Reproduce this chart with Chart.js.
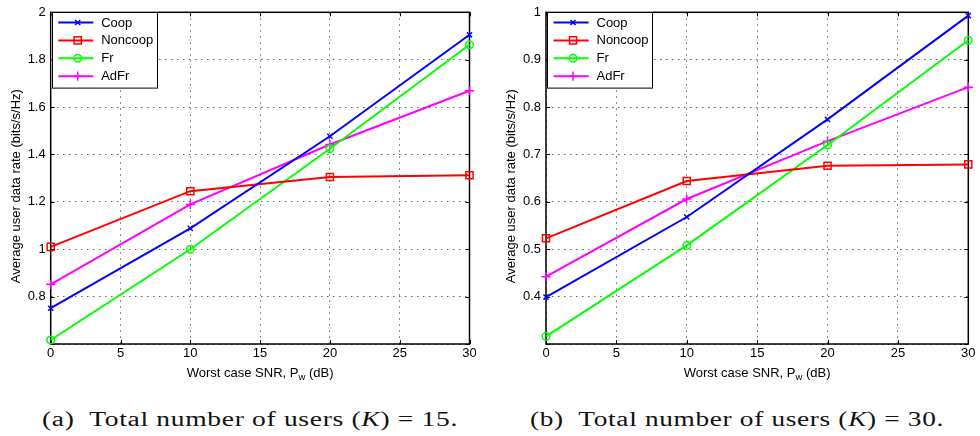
<!DOCTYPE html>
<html>
<head>
<meta charset="utf-8">
<script src="https://cdn.jsdelivr.net/npm/chart.js@4/dist/chart.umd.min.js"></script>
<style>
  html, body { margin: 0; padding: 0; background: #fff; }
  body { width: 980px; height: 436px; position: relative; overflow: hidden; }
  canvas { position: absolute; top: 0; }
  #c1 { left: 0; }
  #c2 { left: 495px; }
  .cap {
    position: absolute; top: 409px; line-height: 20px;
    font-family: "Liberation Serif", "DejaVu Serif", serif; font-size: 20.5px;
    letter-spacing: 0.5px;
    white-space: nowrap; color: #111; transform-origin: 0 50%;
  }
  #capA { left: 42px; }
  #capB { left: 530px; }
</style>
</head>
<body>
<canvas id="c1" width="476" height="392"></canvas>
<canvas id="c2" width="485" height="392"></canvas>
<div class="cap" id="capA" data-w="416">(a)&nbsp; Total number of users (<i>K</i>) = 15.</div>
<div class="cap" id="capB" data-w="414">(b)&nbsp; Total number of users (<i>K</i>) = 30.</div>
<script>
// Worst case SNR values (dB)
const snr = [0, 10, 20, 30];
const xTickStep = 5;

// K = 15 users
const coopK15    = [0.751, 1.088, 1.477, 1.905];
const noncoopK15 = [1.010, 1.245, 1.305, 1.312];
const frK15      = [0.617, 1.000, 1.424, 1.863];
const adfrK15    = [0.852, 1.189, 1.442, 1.669];

// K = 30 users
const coopK30    = [0.399, 0.568, 0.774, 0.993];
const noncoopK30 = [0.523, 0.644, 0.676, 0.679];
const frK30      = [0.316, 0.508, 0.720, 0.941];
const adfrK30    = [0.442, 0.606, 0.728, 0.842];

const seriesNames = ['Coop', 'Noncoop', 'Fr', 'AdFr'];
const yTitle = 'Average user data rate (bits/s/Hz)';
const xTitleParts = ['Worst case SNR, P', 'w', ' (dB)'];

const styles = [
  { color: '#0000ff', pointStyle: 'crossRot', radius: 3.6 },
  { color: '#ff0000', pointStyle: 'rect',     radius: 5.0 },
  { color: '#00ff00', pointStyle: 'circle',   radius: 3.8 },
  { color: '#ff00ff', pointStyle: 'cross',    radius: 4.6 }
];

const FONT = '"Liberation Sans", Arial, sans-serif';

function makeDatasets(values) {
  return values.map((vals, i) => ({
    label: seriesNames[i],
    data: snr.map((x, j) => ({ x: x, y: vals[j] })),
    borderColor: styles[i].color,
    backgroundColor: 'rgba(0,0,0,0)',
    pointBorderColor: styles[i].color,
    pointBackgroundColor: 'rgba(0,0,0,0)',
    pointStyle: styles[i].pointStyle,
    pointRadius: styles[i].radius,
    pointBorderWidth: 1.5,
    borderWidth: 2,
    tension: 0,
    clip: false
  }));
}

function drawMarker(ctx, style, x, y) {
  const r = style.radius;
  ctx.beginPath();
  if (style.pointStyle === 'circle') {
    ctx.arc(x, y, r, 0, Math.PI * 2);
  } else if (style.pointStyle === 'rect') {
    const s = Math.SQRT1_2 * r;
    ctx.rect(x - s, y - s, 2 * s, 2 * s);
  } else if (style.pointStyle === 'cross') {
    ctx.moveTo(x - r, y); ctx.lineTo(x + r, y);
    ctx.moveTo(x, y - r); ctx.lineTo(x, y + r);
  } else {
    const d = Math.SQRT1_2 * r;
    ctx.moveTo(x - d, y - d); ctx.lineTo(x + d, y + d);
    ctx.moveTo(x - d, y + d); ctx.lineTo(x + d, y - d);
  }
  ctx.stroke();
}

// Axes box, inward tick marks, axis titles and the in-plot legend
const framePlugin = {
  id: 'frame',
  beforeDatasetsDraw(chart) {
    const { ctx, chartArea: a } = chart;
    const xs = chart.scales.x, ys = chart.scales.y;
    ctx.save();
    ctx.strokeStyle = '#000';
    ctx.lineWidth = 1;
    const tl = 4;
    xs.ticks.forEach(t => {
      const px = Math.round(xs.getPixelForValue(t.value)) + 0.5;
      ctx.beginPath();
      ctx.moveTo(px, a.bottom); ctx.lineTo(px, a.bottom - tl);
      ctx.moveTo(px, a.top); ctx.lineTo(px, a.top + tl);
      ctx.stroke();
    });
    ys.ticks.forEach(t => {
      const py = Math.round(ys.getPixelForValue(t.value)) + 0.5;
      ctx.beginPath();
      ctx.moveTo(a.left, py); ctx.lineTo(a.left + tl, py);
      ctx.moveTo(a.right, py); ctx.lineTo(a.right - tl, py);
      ctx.stroke();
    });
    ctx.lineWidth = 1.5;
    ctx.strokeRect(a.left, a.top, a.right - a.left, a.bottom - a.top);
    ctx.restore();
  },
  afterDatasetsDraw(chart) {
    const { ctx, chartArea: a } = chart;
    ctx.save();
    // legend
    const lx = a.left + 1, ly = a.top - 0.6, lw = 105, lh = 75.6;
    ctx.fillStyle = '#fff';
    ctx.fillRect(lx, ly, lw, lh);
    ctx.strokeStyle = '#000';
    ctx.lineWidth = 1;
    ctx.strokeRect(Math.round(lx) + 0.5, Math.round(ly) + 0.5, lw, lh);
    ctx.font = '13px ' + FONT;
    ctx.textBaseline = 'middle';
    ctx.textAlign = 'left';
    chart.data.datasets.forEach((ds, i) => {
      const y = ly + 10.8 + i * 17.9;
      ctx.strokeStyle = styles[i].color;
      ctx.lineWidth = 2;
      ctx.beginPath();
      ctx.moveTo(lx + 6.6, y); ctx.lineTo(lx + 41.6, y);
      ctx.stroke();
      ctx.lineWidth = 1.5;
      drawMarker(ctx, styles[i], lx + 26, y);
      ctx.fillStyle = '#000';
      ctx.fillText(ds.label, lx + 49.5, y + 0.5);
    });
    ctx.restore();
  },
  afterDraw(chart) {
    const { ctx, chartArea: a } = chart;
    ctx.save();
    ctx.fillStyle = '#000';
    // y title
    ctx.font = '13px ' + FONT;
    ctx.translate(16.5, (a.top + a.bottom) / 2 + 8);
    ctx.rotate(-Math.PI / 2);
    ctx.textAlign = 'center';
    ctx.textBaseline = 'middle';
    ctx.fillText(yTitle, 0, 0);
    ctx.restore();
    // x title with subscript
    ctx.save();
    ctx.fillStyle = '#000';
    ctx.textBaseline = 'alphabetic';
    ctx.textAlign = 'left';
    const mainFont = '13px ' + FONT, subFont = '9.5px ' + FONT;
    ctx.font = mainFont; const w0 = ctx.measureText(xTitleParts[0]).width;
    ctx.font = subFont;  const w1 = ctx.measureText(xTitleParts[1]).width;
    ctx.font = mainFont; const w2 = ctx.measureText(xTitleParts[2]).width;
    let x = (a.left + a.right) / 2 - (w0 + w1 + w2) / 2;
    const base = 376.5;
    ctx.font = mainFont; ctx.fillText(xTitleParts[0], x, base); x += w0;
    ctx.font = subFont;  ctx.fillText(xTitleParts[1], x, base + 3.5); x += w1;
    ctx.font = mainFont; ctx.fillText(xTitleParts[2], x, base);
    ctx.restore();
  }
};

function makeChart(id, values, yMin, yMax, yStep, padRight, yWidth) {
  return new Chart(document.getElementById(id), {
    type: 'line',
    data: { datasets: makeDatasets(values) },
    options: {
      responsive: false,
      animation: false,
      events: [],
      layout: { padding: { top: 12.3, right: padRight, bottom: 0, left: 0 } },
      plugins: { legend: { display: false }, tooltip: { enabled: false }, title: { display: false } },
      scales: {
        x: {
          type: 'linear', min: snr[0], max: snr[snr.length - 1],
          ticks: { stepSize: xTickStep, color: '#000', font: { family: FONT, size: 13 }, padding: 2, maxRotation: 0 },
          grid: { color: 'rgba(0,0,0,0.6)', lineWidth: 1, drawTicks: false },
          border: { display: false, dash: [1.5, 4.5] },
          afterFit(s) { s.height = 392 - 344; s.paddingLeft = 0; s.paddingRight = 0; }
        },
        y: {
          min: yMin, max: yMax,
          ticks: {
            stepSize: yStep, color: '#000', font: { family: FONT, size: 13 }, padding: 5,
            callback: v => (Math.abs(v - yMin) < 1e-9 ? '' : String(Math.round(v * 100) / 100))
          },
          grid: { color: 'rgba(0,0,0,0.6)', lineWidth: 1, drawTicks: false },
          border: { display: false, dash: [1.5, 4.5] },
          afterFit(s) { s.width = yWidth; s.paddingTop = 0; s.paddingBottom = 0; }
        }
      }
    },
    plugins: [framePlugin]
  });
}

makeChart('c1', [coopK15, noncoopK15, frK15, adfrK15], 0.6, 2, 0.2, 3.3, 50.7);
makeChart('c2', [coopK30, noncoopK30, frK30, adfrK30], 0.3, 1, 0.1, 11.7, 51);

// stretch each caption to its column width
document.querySelectorAll('.cap').forEach(el => {
  const target = parseFloat(el.dataset.w);
  const w = el.getBoundingClientRect().width;
  el.style.transform = 'scaleX(' + (target / w) + ')';
});
</script>
</body>
</html>
